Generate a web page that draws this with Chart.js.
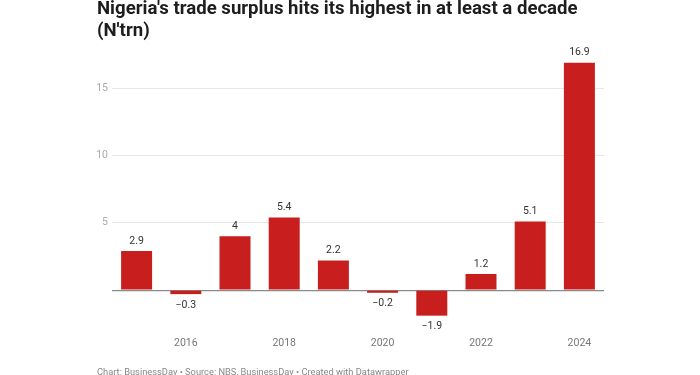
<!DOCTYPE html>
<html>
<head>
<meta charset="utf-8">
<script src="https://cdn.jsdelivr.net/npm/chart.js@4.4.1/dist/chart.umd.min.js"></script>
<style>
  html, body { margin: 0; padding: 0; background: #fff; }
  body { width: 700px; height: 375px; position: relative; overflow: hidden; font-family: Roboto, sans-serif; }
  #title { position: absolute; left: 97px; top: -3px; font-size: 18.6px; line-height: 22px; font-weight: 700; color: #1d1d1d; }
  #footer { position: absolute; left: 97px; top: 366px; font-size: 9.3px; color: #888; white-space: nowrap; }
  #wrap { position: absolute; left: 0; top: 0; width: 700px; height: 375px; }
</style>
</head>
<body>
<div id="wrap"><canvas id="chart"></canvas></div>
<div id="title">Nigeria's trade surplus hits its highest in at least a decade<br>(N'trn)</div>
<div id="footer">Chart: BusinessDay • Source: NBS, BusinessDay • Created with Datawrapper</div>
<script>
// data
const years = ['2015', '2016', '2017', '2018', '2019', '2020', '2021', '2022', '2023', '2024'];
const surplus = [2.9, -0.3, 4, 5.4, 2.2, -0.2, -1.9, 1.2, 5.1, 16.9];
const yTicks = [0, 5, 10, 15];

const barRed = '#c81e1e';

function fmt(v) {
    return v < 0 ? '\u2212' + Math.abs(v) : String(v);
}

// value labels above / below each bar
const valueLabels = {
    id: 'valueLabels',
    afterDatasetsDraw(chart) {
        const c = chart.ctx;
        const meta = chart.getDatasetMeta(0);
        c.save();
        c.font = '10.5px Roboto, sans-serif';
        c.fillStyle = '#333';
        c.textAlign = 'center';
        c.textBaseline = 'middle';
        meta.data.forEach((bar, i) => {
            const v = surplus[i];
            const y = v >= 0 ? bar.y - 10 : bar.y + 11;
            c.fillText(fmt(v), bar.x, y);
        });
        c.restore();
    }
};

const chart = new Chart('chart', {
    type: 'bar',
    data: {
        labels: years,
        datasets: [{
            data: surplus,
            backgroundColor: barRed,
            borderWidth: 0,
            categoryPercentage: 1,
            barPercentage: 0.63
        }]
    },
    options: {
        responsive: true,
        maintainAspectRatio: false,
        animation: false,
        layout: {
            padding: { left: 72, right: 96, top: 48, bottom: 0 }
        },
        plugins: {
            legend: { display: false },
            tooltip: { enabled: false }
        },
        scales: {
            x: {
                grid: { display: false, drawTicks: false },
                border: { display: false },
                ticks: {
                    autoSkip: false,
                    maxRotation: 0,
                    padding: 20,
                    color: '#777',
                    font: { family: 'Roboto', size: 10.5 },
                    callback: function (val, i) {
                        const y = years[i];
                        return Number(y) % 2 === 0 ? y : '';
                    }
                },
                afterFit(scale) { scale.height = 58; }
            },
            y: {
                min: -2,
                max: 18,
                border: { display: false },
                grid: {
                    drawTicks: false,
                    color: ctx => ctx.tick && ctx.tick.value === 0 ? '#8a8a8a' : '#e8e8e8',
                    lineWidth: ctx => ctx.tick && ctx.tick.value === 0 ? 1.2 : 1
                },
                ticks: {
                    padding: 4,
                    color: '#aaa',
                    font: { family: 'Roboto', size: 10.5 },
                    callback: v => v === 0 ? '' : String(v)
                },
                afterBuildTicks(scale) {
                    scale.ticks = yTicks.map(v => ({ value: v }));
                },
                afterFit(scale) { scale.width = 40; }
            }
        }
    },
    plugins: [valueLabels]
});
</script>
</body>
</html>
